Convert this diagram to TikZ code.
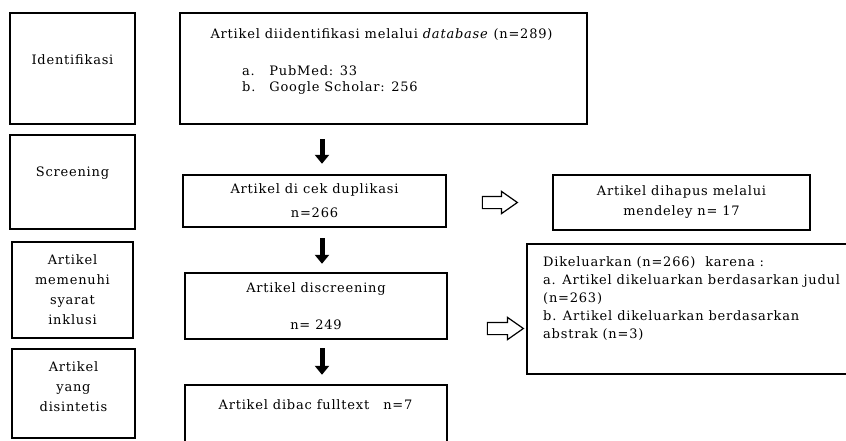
\documentclass[tikz,border=0pt]{standalone}
\usepackage{fontspec}
\setmainfont{DejaVu Serif}[LetterSpace=6]
\usetikzlibrary{arrows.meta, shapes.arrows}

\begin{document}
\begin{tikzpicture}[x=1pt, y=-1pt]
\tikzstyle{box}=[draw, line width=2.4pt, rectangle, inner sep=0pt]
\tikzstyle{txt}=[inner sep=0pt, font=\fontsize{13}{20}\selectfont, align=center]
\tikzstyle{down}=[line width=5pt, -{Triangle[length=9pt, width=14pt]}]
\tikzstyle{hollow}=[single arrow, draw, line width=1.2pt, inner xsep=0pt, inner ysep=5.5pt,
  single arrow head extend=5pt, single arrow tip angle=70, minimum height=35pt]

\useasboundingbox (0,0) rectangle (846,441);

% tahap (kolom kiri)
\node[box, minimum width=125pt, minimum height=111pt] (idbox) at (72.5,68.5) {};
\node[txt] (idtxt) at (72.5,60) {Identifikasi};
\node[box, minimum width=125pt, minimum height=94pt] (scrbox) at (72.5,182) {};
\node[txt] (scrtxt) at (72.5,173) {Screening};
\node[box, txt, minimum width=121pt, minimum height=96pt] (inkbox) at (72.5,290)
  {Artikel\\memenuhi\\syarat\\inklusi};
\node[box, minimum width=123pt, minimum height=89pt] (synbox) at (73.5,393.5) {};
\node[txt] (syntxt) at (73.5,387) {Artikel\\yang\\disintetis};

% alur utama
\node[box, minimum width=407pt, minimum height=111pt] (dbbox) at (383.5,68.5) {};
\node[txt] (dbtxt) at (381.5,35) {Artikel diidentifikasi melalui \textit{database} (n=289)};
\node[txt, anchor=west, font=\fontsize{13}{16}\selectfont] (dblist) at (242,80)
  {\begin{tabular}{@{}l@{\hspace{14pt}}l@{}}a. & PubMed: 33\\ b. & Google Scholar: 256\end{tabular}};
\node[box, txt, font=\fontsize{13}{24}\selectfont, minimum width=263pt, minimum height=52pt] (dupbox)
  at (314.5,201) {Artikel di cek duplikasi\\n=266};
\node[box, txt, font=\fontsize{13}{37}\selectfont, minimum width=262pt, minimum height=66pt] (scrnbox)
  at (316,306) {Artikel discreening\\n= 249};
\node[box, minimum width=262pt, minimum height=70pt] (fullbox) at (316,420) {};
\node[txt] (fulltxt) at (315.5,405) {Artikel dibac fulltext\hspace{14pt}n=7};

% artikel yang dikeluarkan
\node[box, txt, minimum width=257pt, minimum height=55pt] (delbox) at (681.5,202.5)
  {Artikel dihapus melalui\\mendeley n= 17};
\node[box, minimum width=323pt, minimum height=130pt] (excbox) at (688.5,309) {};
\node[txt, align=left, anchor=north west, font=\fontsize{13}{18}\selectfont] (exctxt) at (543,256)
  {Dikeluarkan (n=266)\ \ karena :\\
   a. Artikel dikeluarkan berdasarkan judul\\
   (n=263)\\
   b. Artikel dikeluarkan berdasarkan\\
   abstrak (n=3)};

\node[hollow] (harr1) at (495.5,202.5) {};
\node[hollow, minimum height=36pt] (harr2) at (501,328.5) {};

\coordinate (mid) at (322,0);
\draw[down, shorten <=14pt, shorten >=10pt] (mid |- dbbox.south) -- (mid |- dupbox.north);
\draw[down, shorten <=10pt, shorten >=8pt] (mid |- dupbox.south) -- (mid |- scrnbox.north);
\draw[down, shorten <=8pt, shorten >=9pt] (mid |- scrnbox.south) -- (mid |- fullbox.north);

\end{tikzpicture}
\end{document}
